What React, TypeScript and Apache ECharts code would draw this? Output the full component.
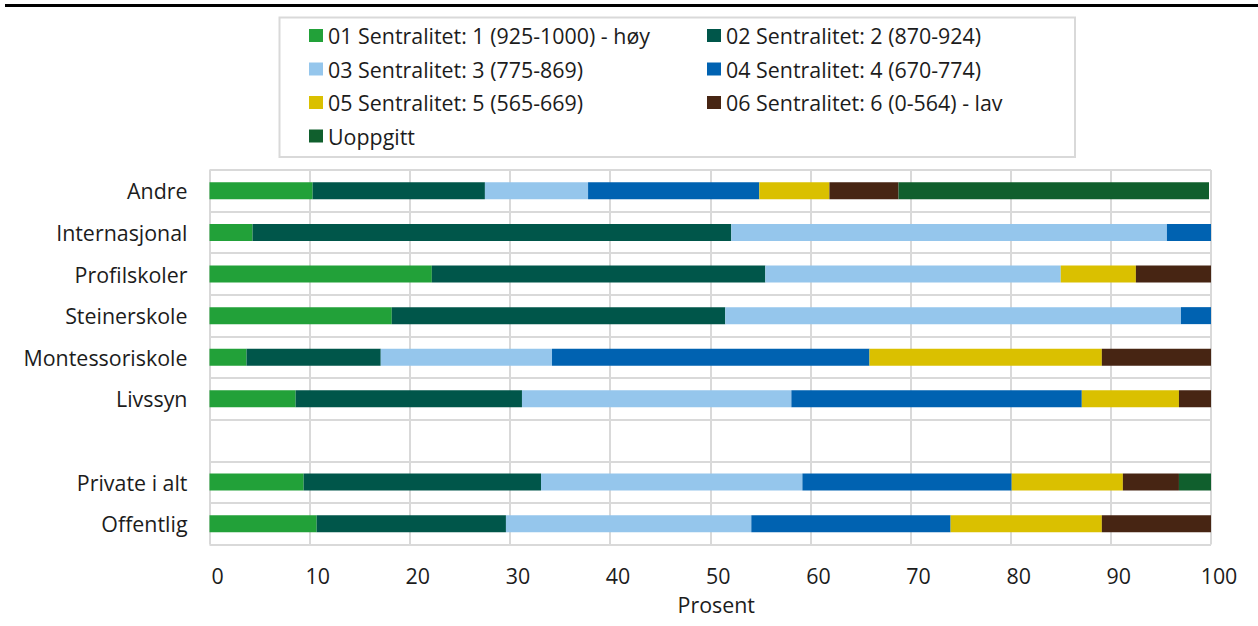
import React, { useEffect, useRef } from "react";
import * as echarts from "echarts";

const categories = [
  "Andre",
  "Internasjonal",
  "Profilskoler",
  "Steinerskole",
  "Montessoriskole",
  "Livssyn",
  "",
  "Private i alt",
  "Offentlig",
];

const seriesNames = [
  "01 Sentralitet: 1 (925-1000) - høy",
  "02 Sentralitet: 2 (870-924)",
  "03 Sentralitet: 3 (775-869)",
  "04 Sentralitet: 4 (670-774)",
  "05 Sentralitet: 5 (565-669)",
  "06 Sentralitet: 6 (0-564) - lav",
  "Uoppgitt",
];

const colors = ["#22a139", "#00564a", "#95c6ec", "#0062b1", "#dac000", "#472513", "#105f2d"];

// values per series, in category order (null = no segment)
const s01 = [10.3, 4.3, 22.2, 18.2, 3.7, 8.6, null, 9.4, 10.7];
const s02 = [17.2, 47.8, 33.3, 33.3, 13.4, 22.6, null, 23.7, 18.9];
const s03 = [10.3, 43.5, 29.5, 45.5, 17.1, 26.9, null, 26.1, 24.5];
const s04 = [17.1, 4.4, null, 3.0, 31.7, 29.0, null, 20.9, 19.9];
const s05 = [7.0, null, 7.5, null, 23.2, 9.7, null, 11.1, 15.1];
const s06 = [6.9, null, 7.5, null, 10.9, 3.2, null, 5.6, 10.9];
const s07 = [31.0, null, null, null, null, null, null, 3.2, null];

const seriesData = [s01, s02, s03, s04, s05, s06, s07];

const xTicks = { min: 0, max: 100, interval: 10 };

const FONT = "'Open Sans', sans-serif";
const FONT_SIZE = 21.4;
const TEXT_COLOR = "#1c1c1c";
const GRID_COLOR = "#d9d9d9";

export default function App() {
  const ref = useRef<HTMLDivElement>(null);

  useEffect(() => {
    if (!ref.current) return;
    const chart = echarts.init(ref.current, null, { renderer: "svg" });
    const legendCommon = {
      orient: "vertical" as const,
      padding: 0,
      itemWidth: 14,
      itemHeight: 13,
      itemGap: 12.5,
      icon: "rect",
      top: 25,
      textStyle: { fontFamily: FONT, fontSize: FONT_SIZE, color: TEXT_COLOR },
    };
    chart.setOption({
      animation: false,
      backgroundColor: "#ffffff",
      textStyle: { fontFamily: FONT },
      grid: { left: 209.5, right: 47, top: 170, bottom: 81.5, containLabel: false },
      legend: [
        { ...legendCommon, left: 309, data: [seriesNames[0], seriesNames[2], seriesNames[4], seriesNames[6]] },
        { ...legendCommon, left: 707, data: [seriesNames[1], seriesNames[3], seriesNames[5]] },
      ],
      xAxis: {
        type: "value",
        min: xTicks.min,
        max: xTicks.max,
        interval: xTicks.interval,
        name: "Prosent",
        nameLocation: "middle",
        nameGap: 49,
        nameTextStyle: { fontFamily: FONT, fontSize: FONT_SIZE, color: TEXT_COLOR, padding: [0, 0, 0, 12] },
        axisLine: { show: false },
        axisTick: { show: false },
        axisLabel: {
          fontFamily: FONT,
          fontSize: FONT_SIZE,
          color: TEXT_COLOR,
          margin: 20,
          padding: [0, 0, 0, 16],
        },
        splitLine: { show: true, lineStyle: { color: GRID_COLOR, width: 2 } },
      },
      yAxis: {
        type: "category",
        inverse: true,
        data: categories,
        axisLine: { show: false },
        axisTick: { show: false },
        axisLabel: { fontFamily: FONT, fontSize: FONT_SIZE, color: TEXT_COLOR, margin: 22 },
        splitLine: { show: true, lineStyle: { color: GRID_COLOR, width: 2 } },
      },
      graphic: [
        {
          type: "line",
          shape: { x1: 5, y1: 5.5, x2: 1258, y2: 5.5 },
          style: { stroke: "#000000", lineWidth: 3 },
        },
        {
          type: "rect",
          shape: { x: 279.5, y: 17.5, width: 795.5, height: 139.5 },
          style: { fill: "none", stroke: GRID_COLOR, lineWidth: 2 },
        },
      ],
      series: seriesNames.map((name, i) => ({
        name,
        type: "bar",
        stack: "total",
        barWidth: 17,
        itemStyle: { color: colors[i] },
        emphasis: { disabled: true },
        data: seriesData[i],
      })),
    });
    return () => chart.dispose();
  }, []);

  return (
    <div
      ref={ref}
      style={{ position: "fixed", left: 0, top: 0, width: "1258px", height: "626px" }}
    />
  );
}
